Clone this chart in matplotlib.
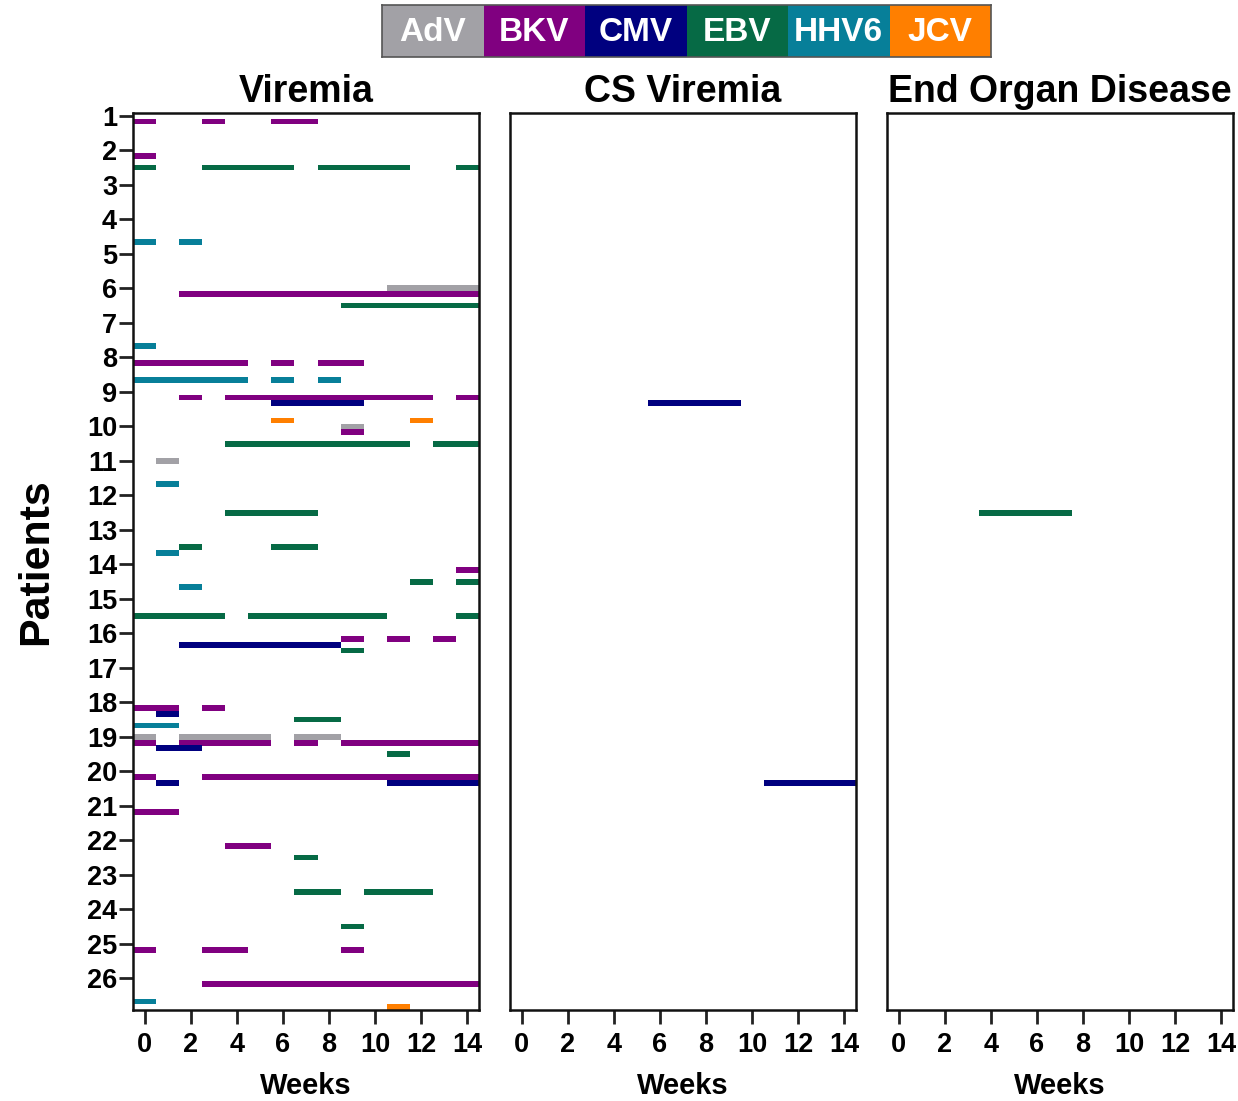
import matplotlib
matplotlib.use("Agg")
import matplotlib.pyplot as plt

plt.rcParams['font.family'] = ['Liberation Sans', 'DejaVu Sans']
plt.rcParams['font.weight'] = 'bold'

# ---- data ----
viruses = ["AdV", "BKV", "CMV", "EBV", "HHV6", "JCV"]
virus_colors = ["#A2A1A6", "#800080", "#00007F", "#066A45", "#077F99", "#FF7F00"]
patients = list(range(1, 27))
week_ticks = list(range(0, 15, 2))
panel_titles = ["Viremia", "CS Viremia", "End Organ Disease"]

# Viremia episodes: patient, virus, first week, last week
vir_patient = [1, 1, 1,
               2, 2, 2, 2, 2,
               4, 4,
               6, 6, 6,
               7,
               8, 8, 8, 8, 8, 8,
               9, 9, 9, 9, 9, 9,
               10, 10, 10, 10,
               11, 11,
               12,
               13, 13, 13,
               14, 14, 14, 14,
               15, 15, 15,
               16, 16, 16, 16, 16,
               18, 18, 18, 18, 18,
               19, 19, 19, 19, 19, 19, 19, 19, 19,
               20, 20, 20, 20,
               21,
               22, 22,
               23, 23,
               24,
               25, 25, 25,
               26, 26, 26]
vir_virus = ["BKV", "BKV", "BKV",
             "BKV", "EBV", "EBV", "EBV", "EBV",
             "HHV6", "HHV6",
             "AdV", "BKV", "EBV",
             "HHV6",
             "BKV", "BKV", "BKV", "HHV6", "HHV6", "HHV6",
             "BKV", "BKV", "BKV", "CMV", "JCV", "JCV",
             "AdV", "BKV", "EBV", "EBV",
             "AdV", "HHV6",
             "EBV",
             "EBV", "EBV", "HHV6",
             "BKV", "EBV", "EBV", "HHV6",
             "EBV", "EBV", "EBV",
             "BKV", "BKV", "BKV", "CMV", "EBV",
             "BKV", "BKV", "CMV", "EBV", "HHV6",
             "AdV", "AdV", "AdV", "BKV", "BKV", "BKV", "BKV", "CMV", "EBV",
             "BKV", "BKV", "CMV", "CMV",
             "BKV",
             "BKV", "EBV",
             "EBV", "EBV",
             "EBV",
             "BKV", "BKV", "BKV",
             "BKV", "HHV6", "JCV"]
vir_start = [0, 3, 6,
             0, 0, 3, 8, 14,
             0, 2,
             11, 2, 9,
             0,
             0, 6, 8, 0, 6, 8,
             2, 4, 14, 6, 6, 12,
             9, 9, 4, 13,
             1, 1,
             4,
             2, 6, 1,
             14, 12, 14, 2,
             0, 5, 14,
             9, 11, 13, 2, 9,
             0, 3, 1, 7, 0,
             0, 2, 7, 0, 2, 7, 9, 1, 11,
             0, 3, 1, 11,
             0,
             4, 7,
             7, 10,
             9,
             0, 3, 9,
             3, 0, 11]
vir_end = [0, 3, 7,
           0, 0, 6, 11, 14,
           0, 2,
           14, 14, 14,
           0,
           4, 6, 9, 4, 6, 8,
           2, 12, 14, 9, 6, 12,
           9, 9, 11, 14,
           1, 1,
           7,
           2, 7, 1,
           14, 12, 14, 2,
           3, 10, 14,
           9, 11, 13, 8, 9,
           1, 3, 1, 8, 1,
           0, 5, 8, 0, 5, 7, 14, 2, 11,
           0, 14, 1, 14,
           1,
           5, 7,
           8, 12,
           9,
           0, 4, 9,
           14, 0, 11]

# Clinically significant viremia
cs_patient = [9, 20]
cs_virus = ["CMV", "CMV"]
cs_start = [6, 11]
cs_end = [9, 14]

# End organ disease
eod_patient = [12]
eod_virus = ["EBV"]
eod_start = [4]
eod_end = [7]

panels = [(vir_patient, vir_virus, vir_start, vir_end),
          (cs_patient, cs_virus, cs_start, cs_end),
          (eod_patient, eod_virus, eod_start, eod_end)]

# ---- figure ----
W, H = 1238, 1101
fig = plt.figure(figsize=(W / 100, H / 100), dpi=100)

lefts = [133, 510, 887]
ax_w = 346
ax_top, ax_bot = 113, 1010
nv = len(viruses)
row_h = 1.0 / nv

for i, (pp, vv, ss, ee) in enumerate(panels):
    ax = fig.add_axes([lefts[i] / W, 1 - ax_bot / H, ax_w / W, (ax_bot - ax_top) / H])
    for p, v, s, e in zip(pp, vv, ss, ee):
        k = viruses.index(v)
        ax.barh(p + k * row_h, e - s + 1, left=s - 0.5, height=row_h,
                color=virus_colors[k], edgecolor='none', linewidth=0)
    ax.set_xlim(-0.5, 14.5)
    ax.set_ylim(patients[-1] + 1 - row_h / 2, patients[0] - row_h / 2)
    ax.set_xticks(week_ticks)
    ax.set_xticklabels([str(t) for t in week_ticks], fontsize=19.5, fontweight='bold')
    if i == 0:
        ax.set_yticks(patients)
        ax.set_yticklabels([str(p) for p in patients], fontsize=19.5, fontweight='bold')
        ax.set_ylabel("Patients", fontsize=31, fontweight='bold', labelpad=22)
    else:
        ax.set_yticks([])
    ax.tick_params(axis='both', direction='out', length=10, width=2, pad=1.5, color='#222222')
    ax.tick_params(axis='x', pad=6)
    for sp in ax.spines.values():
        sp.set_linewidth(1.8)
        sp.set_color('#111111')
    ax.set_xlabel("Weeks", fontsize=21, fontweight='bold', labelpad=10)
    ax.set_title(panel_titles[i], fontsize=27, fontweight='bold', pad=8)

# ---- legend bar ----
lax = fig.add_axes([382 / W, 1 - 57 / H, 609 / W, 52 / H])
for k, (name, col) in enumerate(zip(viruses, virus_colors)):
    lax.bar(k + 0.5, 1, width=1, bottom=0, color=col, edgecolor='none')
    lax.text(k + 0.5, 0.47, name, color='white', fontsize=24, fontweight='bold',
             ha='center', va='center')
lax.set_xlim(0, nv)
lax.set_ylim(0, 1)
lax.set_xticks([])
lax.set_yticks([])
for sp in lax.spines.values():
    sp.set_linewidth(1.2)
    sp.set_color('#555555')

fig.savefig("out.png", dpi=100)
